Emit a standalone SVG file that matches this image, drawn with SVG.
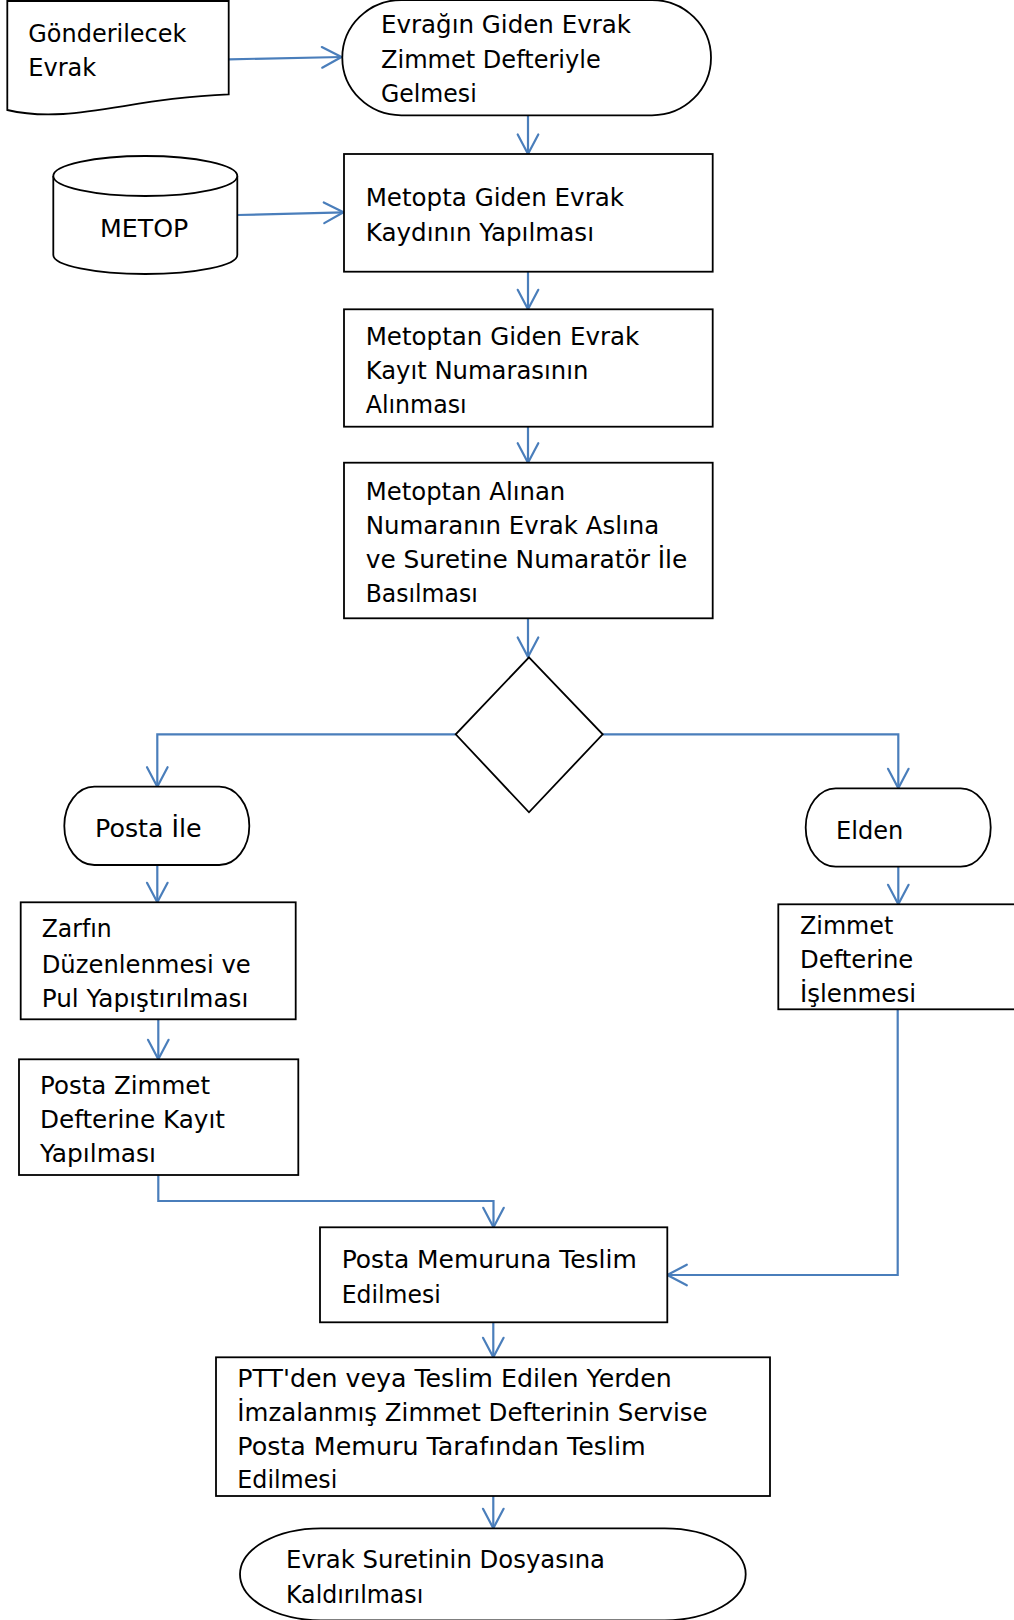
<svg xmlns="http://www.w3.org/2000/svg" width="1014" height="1620" viewBox="0 0 1014 1620">
<style>
.s{fill:#fff;stroke:#000;stroke-width:1.8}
.c{fill:none;stroke:#4a7ebb;stroke-width:2.2;marker-end:url(#arr)}
text{font-family:"DejaVu Sans","Verdana","Noto Sans",sans-serif;font-size:25px;fill:#000}
</style>
<defs>
<marker id="arr" markerUnits="userSpaceOnUse" markerWidth="30" markerHeight="30" viewBox="-25 -15 30 30" refX="0" refY="0" orient="auto" overflow="visible">
<path d="M-19.5,-10.3 L0,0 L-19.5,10.3" fill="none" stroke="#4a7ebb" stroke-width="2.2" stroke-linejoin="round" stroke-linecap="round"/>
</marker>
</defs>
<rect width="1014" height="1620" fill="#fff"/>
<g id="connectors">
<path class="c" d="M229,59.3 L341.5,57"/>
<path class="c" d="M237.5,215 L343.5,212.3"/>
<path class="c" d="M528,115.5 V154"/>
<path class="c" d="M528,272 V309.3"/>
<path class="c" d="M528,427 V462.7"/>
<path class="c" d="M528,618.3 V657"/>
<path class="c" d="M455.7,734.3 H157.3 V786.7"/>
<path class="c" d="M602.7,734.3 H898.3 V788.3"/>
<path class="c" d="M157.3,865 V902.3"/>
<path class="c" d="M898.3,866.7 V904.3"/>
<path class="c" d="M158.3,1019.3 V1059.3"/>
<path class="c" d="M158.3,1175 V1201 H493.5 V1227.3"/>
<path class="c" d="M897.7,1009.3 V1275 H667.3"/>
<path class="c" d="M493.3,1322.3 V1357.3"/>
<path class="c" d="M493.3,1496 V1528.3"/>
</g>
<g id="doc">
<path class="s" d="M7.3,1 H228.7 V94.3 C130,98 70,125 7.3,110 Z"/>
<text x="28.3" y="41.7" textLength="158" lengthAdjust="spacingAndGlyphs">Gönderilecek</text>
<text x="28.3" y="76" textLength="68" lengthAdjust="spacingAndGlyphs">Evrak</text>
</g>
<g id="start">
<rect class="s" x="342.3" y="0" width="368.7" height="115.3" rx="59" ry="57.6"/>
<text x="381" y="33.3" textLength="250" lengthAdjust="spacingAndGlyphs">Evrağın Giden Evrak</text>
<text x="381" y="67.7" textLength="219.7" lengthAdjust="spacingAndGlyphs">Zimmet Defteriyle</text>
<text x="381" y="101.7" textLength="95.7" lengthAdjust="spacingAndGlyphs">Gelmesi</text>
</g>
<g id="metop">
<path class="s" d="M53.3,176 A92,20 0 0 1 237.3,176 V255 A92,19 0 0 1 53.3,255 Z"/>
<path class="s" fill="none" d="M53.3,176 A92,20 0 0 0 237.3,176"/>
<text x="100" y="236.7" textLength="88.3" lengthAdjust="spacingAndGlyphs">METOP</text>
</g>
<g id="kayit">
<rect class="s" x="344" y="154" width="368.7" height="117.7"/>
<text x="365.7" y="206" textLength="258.3" lengthAdjust="spacingAndGlyphs">Metopta Giden Evrak</text>
<text x="365.7" y="240.7" textLength="228.3" lengthAdjust="spacingAndGlyphs">Kaydının Yapılması</text>
</g>
<g id="numara">
<rect class="s" x="344" y="309.3" width="368.7" height="117.4"/>
<text x="365.7" y="345" textLength="273.6" lengthAdjust="spacingAndGlyphs">Metoptan Giden Evrak</text>
<text x="365.7" y="379.3" textLength="222.6" lengthAdjust="spacingAndGlyphs">Kayıt Numarasının</text>
<text x="365.7" y="413.3" textLength="101" lengthAdjust="spacingAndGlyphs">Alınması</text>
</g>
<g id="basilma">
<rect class="s" x="344" y="462.7" width="368.7" height="155.6"/>
<text x="365.7" y="500" textLength="199.6" lengthAdjust="spacingAndGlyphs">Metoptan Alınan</text>
<text x="365.7" y="534.3" textLength="293.6" lengthAdjust="spacingAndGlyphs">Numaranın Evrak Aslına</text>
<text x="365.7" y="568.3" textLength="321.6" lengthAdjust="spacingAndGlyphs">ve Suretine Numaratör İle</text>
<text x="365.7" y="602.3" textLength="112" lengthAdjust="spacingAndGlyphs">Basılması</text>
</g>
<g id="decision">
<polygon class="s" points="529,657.3 602.7,734.3 529,812.3 455.7,734.3"/>
</g>
<g id="posta-ile">
<rect class="s" x="64.3" y="786.7" width="185" height="78.3" rx="30" ry="39"/>
<text x="95" y="836.7" textLength="106.7" lengthAdjust="spacingAndGlyphs">Posta İle</text>
</g>
<g id="elden">
<rect class="s" x="805.7" y="788.3" width="185" height="78.4" rx="30" ry="39"/>
<text x="836" y="839" textLength="67.3" lengthAdjust="spacingAndGlyphs">Elden</text>
</g>
<g id="zarf">
<rect class="s" x="20.7" y="902.3" width="275" height="117"/>
<text x="41.7" y="936.7" textLength="70" lengthAdjust="spacingAndGlyphs">Zarfın</text>
<text x="41.7" y="972.7" textLength="209" lengthAdjust="spacingAndGlyphs">Düzenlenmesi ve</text>
<text x="41.7" y="1006.7" textLength="206.7" lengthAdjust="spacingAndGlyphs">Pul Yapıştırılması</text>
</g>
<g id="posta-zimmet">
<rect class="s" x="19" y="1059.3" width="279.3" height="115.7"/>
<text x="40" y="1094" textLength="170" lengthAdjust="spacingAndGlyphs">Posta Zimmet</text>
<text x="40" y="1128.3" textLength="185" lengthAdjust="spacingAndGlyphs">Defterine Kayıt</text>
<text x="40" y="1161.7" textLength="116" lengthAdjust="spacingAndGlyphs">Yapılması</text>
</g>
<g id="zimmet">
<rect class="s" x="778.3" y="904.3" width="250" height="105"/>
<text x="800" y="934" textLength="93.3" lengthAdjust="spacingAndGlyphs">Zimmet</text>
<text x="800" y="968.3" textLength="113.3" lengthAdjust="spacingAndGlyphs">Defterine</text>
<text x="800" y="1001.7" textLength="116" lengthAdjust="spacingAndGlyphs">İşlenmesi</text>
</g>
<g id="memur">
<rect class="s" x="320" y="1227.3" width="347.3" height="95"/>
<text x="341.7" y="1268.3" textLength="295" lengthAdjust="spacingAndGlyphs">Posta Memuruna Teslim</text>
<text x="341.7" y="1303.3" textLength="99" lengthAdjust="spacingAndGlyphs">Edilmesi</text>
</g>
<g id="ptt">
<rect class="s" x="216" y="1357.3" width="554" height="138.7"/>
<text x="237.3" y="1386.7" textLength="434.4" lengthAdjust="spacingAndGlyphs">PTT'den veya Teslim Edilen Yerden</text>
<text x="237.3" y="1421" textLength="470.4" lengthAdjust="spacingAndGlyphs">İmzalanmış Zimmet Defterinin Servise</text>
<text x="237.3" y="1455" textLength="408.4" lengthAdjust="spacingAndGlyphs">Posta Memuru Tarafından Teslim</text>
<text x="237.3" y="1488.3" textLength="100" lengthAdjust="spacingAndGlyphs">Edilmesi</text>
</g>
<g id="end">
<rect class="s" x="240" y="1528.3" width="505.7" height="92" rx="81" ry="46"/>
<text x="286" y="1568.3" textLength="319" lengthAdjust="spacingAndGlyphs">Evrak Suretinin Dosyasına</text>
<text x="286" y="1602.7" textLength="137.3" lengthAdjust="spacingAndGlyphs">Kaldırılması</text>
</g>
</svg>
